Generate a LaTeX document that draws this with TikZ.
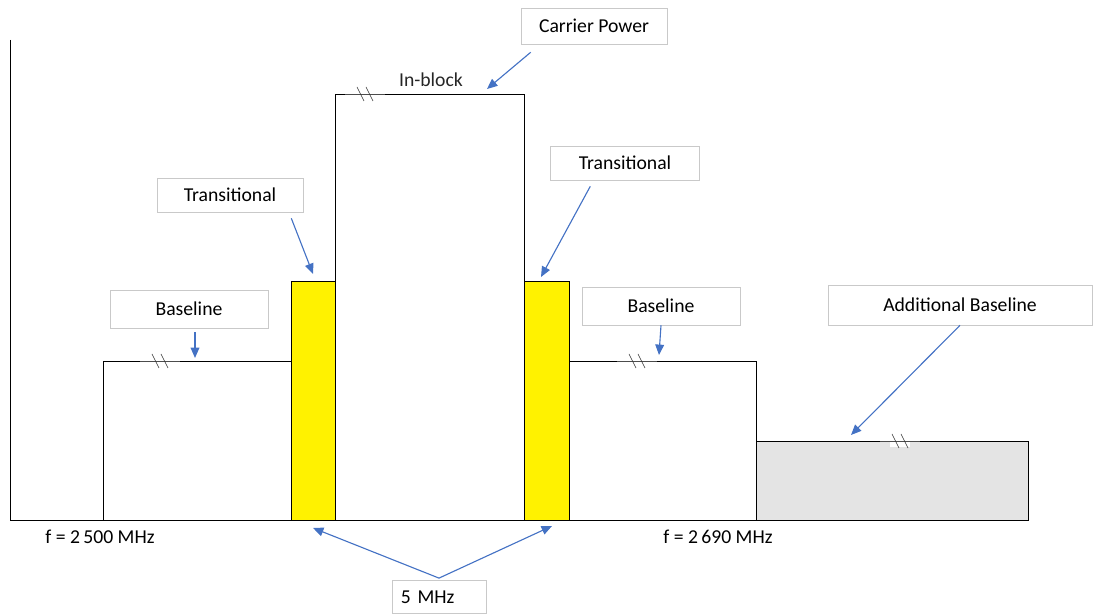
\documentclass[tikz,border=0pt]{standalone}
\usepackage{fontspec}
\setmainfont{Carlito}
\usepackage{tikz}
\usetikzlibrary{arrows.meta,positioning,calc}
\usepackage{xcolor}
\definecolor{callblue}{HTML}{4472C4}
\definecolor{boxgray}{HTML}{C9C9C9}
\definecolor{addgray}{HTML}{E4E4E4}
% break mark on a level line
\newcommand{\brk}[2]{%
  \fill[white] ({#1-10},{#2-6}) rectangle ({#1+10},{#2+6});
  \draw[black!70] ({#1-20},#2) -- ({#1+20},#2);
  \draw[black!80] ({#1-8},{#2-7}) -- ({#1-1},{#2+7});
  \draw[black!80] ({#1+1},{#2-7}) -- ({#1+8},{#2+7});}

\begin{document}
\begin{tikzpicture}[x=0.025cm, y=-0.025cm,
    tag/.style={rectangle, draw=boxgray, fill=white, font=\fontsize{14}{16}\selectfont, align=center},
    call/.style={-{Triangle[length=2.6mm,width=2.2mm]}, callblue, thick},
    lvl/.style={draw=black, line width=0.7pt}]

    \useasboundingbox (0,0) rectangle (1094,615);

    % axes
    \draw[lvl] (10,40) -- (10,520) -- (1028,520);

    % spectrum mask
    \draw[lvl] (103,520) -- (103,361) -- (291,361);
    \draw[lvl, fill=yellow] (291,520) rectangle (335,281);
    \draw[lvl] (335,281) -- (335,94) -- (524,94) -- (524,281);
    \draw[lvl, fill=yellow] (524,520) rectangle (569,281);
    \draw[lvl] (569,361) -- (756,361) -- (756,520);
    \draw[lvl, fill=addgray] (756,520) rectangle (1028,441);

    % breaks
    \brk{160}{361}
    \brk{365}{94}
    \brk{637}{361}
    \brk{900}{441}

    % labels
    \node[tag, minimum width=3.65cm, minimum height=0.9cm] (carrier) at (594,26) {Carrier Power};
    \node[font=\fontsize{14}{16}\selectfont, text=black!85] (inblock) at (431,80) {In-block};
    \node[tag, minimum width=3.65cm, minimum height=0.85cm] (transL) at (230,195) {Transitional};
    \node[tag, minimum width=3.72cm, minimum height=0.85cm] (transR) at (625,163) {Transitional};
    \node[tag, minimum width=3.95cm, minimum height=0.95cm] (baseL) at (189,309) {Baseline};
    \node[tag, minimum width=3.95cm, minimum height=0.95cm] (baseR) at (661,306) {Baseline};
    \node[tag, minimum width=6.6cm, minimum height=1.0cm] (addbase) at (960,305) {Additional Baseline};
    \node[tag, minimum width=2.35cm, minimum height=0.83cm, text width=1.9cm, align=left] (fivemhz) at (439,597) {5 MHz};
    \node[font=\fontsize{14}{16}\selectfont] (flow) at (100,537) {f = 2\,500 MHz};
    \node[font=\fontsize{14}{16}\selectfont] (fhigh) at (718,537) {f = 2\,690 MHz};

    % arrow targets
    \coordinate (inTop) at (487,89);
    \coordinate (yelL) at (313,274);
    \coordinate (yelR) at (541,277);
    \coordinate (lvlL) at (195,358);
    \coordinate (lvlR) at (659,355);
    \coordinate (lvlAdd) at (851,435);
    \coordinate (botL) at (313,528);
    \coordinate (botR) at (552,526);

    % callouts
    \draw[call] ($(carrier.south west)+(10,8)$) -- (inTop);
    \draw[call] ($(transL.south east)+(-12,6)$) -- (yelL);
    \draw[call] ($(transR.south west)+(40,6)$) -- (yelR);
    \draw[call] ($(baseL.south)+(6,4)$) -- (lvlL);
    \draw[call] (baseR.south) -- (lvlR);
    \draw[call] (addbase.south) -- (lvlAdd);
    \draw[call] ($(fivemhz.north)+(0,-2)$) -- (botL);
    \draw[call] ($(fivemhz.north)+(0,-2)$) -- (botR);
\end{tikzpicture}
\end{document}
